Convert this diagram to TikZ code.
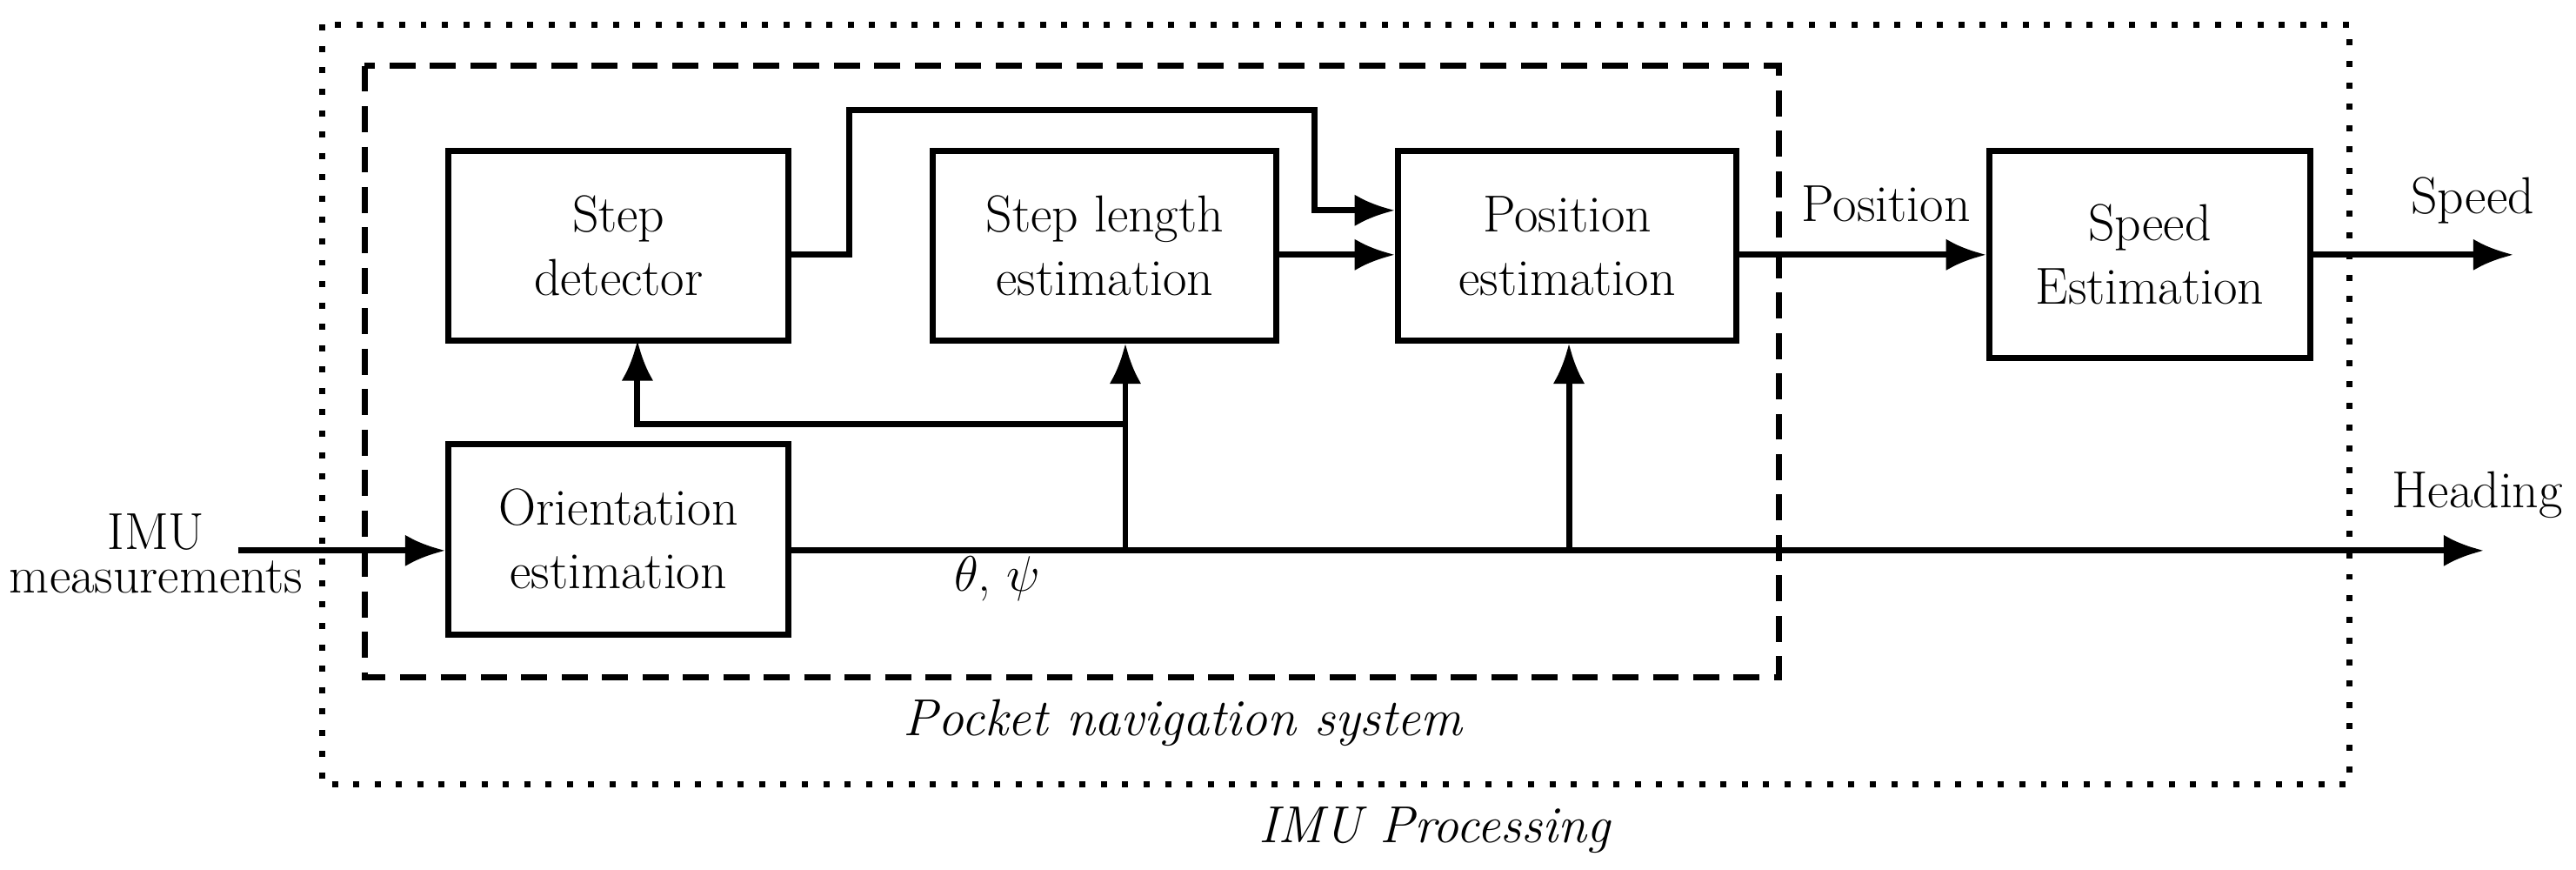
\documentclass[tikz,border=0pt]{standalone}
\usetikzlibrary{arrows.meta}
\begin{document}
\begin{tikzpicture}[x=0.02cm,y=-0.02cm,
  every node/.style={font=\fontsize{18}{22}\selectfont},
  box/.style={draw,line width=2.1pt,inner sep=0pt},
  ln/.style={line width=2.1pt},
  ar/.style={ln,-{Latex[length=14pt,width=11pt]}}]
\useasboundingbox (0,0) rectangle (1568,529);
\draw[line width=2.1pt,dash pattern=on 2.1pt off 5.3pt] (196,15) rectangle (1430,477);
\draw[line width=2.1pt,dash pattern=on 9pt off 5pt] (222,40) rectangle (1083,412);
\node[box,minimum width=207*0.02cm,minimum height=115*0.02cm,align=center] (sd) at (376.5,149.5) {Step\\detector};
\node[box,minimum width=209*0.02cm,minimum height=115*0.02cm,align=center] (sl) at (672.5,149.5) {Step length\\estimation};
\node[box,minimum width=206*0.02cm,minimum height=115*0.02cm,align=center] (pe) at (954,149.5) {Position\\estimation};
\node[box,minimum width=195*0.02cm,minimum height=126*0.02cm,align=center] (se) at (1308.5,155) {Speed\\Estimation};
\node[box,minimum width=207*0.02cm,minimum height=116*0.02cm,align=center] (oe) at (376.5,328) {Orientation\\estimation};
\node[align=center,font=\fontsize{18}{15}\selectfont] (imu) at (95,337) {IMU\\measurements};
\coordinate (imuE) at (145,335);
\coordinate (hd) at (1512,335);
\coordinate (j1) at (685,335);
\coordinate (j2) at (955,335);
\coordinate (spd) at (1530,155);
\draw[ar] (imuE) -- (imuE -| oe.west);
\draw[ar] (oe.east |- hd) -- (hd);
\draw[ar] (j1) -- (j1 |- sl.south);
\draw[ar] (685,258) -- (388,258) -- (388,207);
\draw[ar] (j2) -- (j2 |- pe.south);
\draw[ar] (sd.east |- 0,155) -- (517,155) -- (517,67) -- (800,67) -- (800,128) -- (pe.west |- 0,128);
\draw[ar] (sl.east |- 0,155) -- (pe.west |- 0,155);
\draw[ar] (pe.east |- 0,155) -- (se.west |- 0,155);
\node (lpos) at (1148,124) {Position};
\draw[ar] (se.east |- 0,155) -- (spd);
\node (lsp) at (1505,122) {Speed};
\node (lhd) at (1508,301) {Heading};
\node (th) at (607,352) {$\theta$, $\psi$};
\node (pn) at (720,440) {\itshape Pocket navigation system};
\node (ip) at (873,505) {\itshape IMU Processing};
\end{tikzpicture}
\end{document}
